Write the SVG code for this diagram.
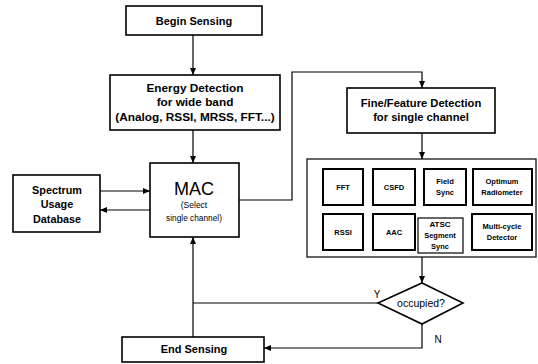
<svg xmlns="http://www.w3.org/2000/svg" width="538" height="364" viewBox="0 0 538 364">
<defs>
<marker id="ah" markerWidth="8" markerHeight="8" refX="7" refY="4" orient="auto" markerUnits="userSpaceOnUse">
<path d="M0,1 L7,4 L0,7 Z" fill="#000"/>
</marker>
<style>
.box{fill:#fff;stroke:#000;stroke-width:1.6}
.inner{fill:#fff;stroke:#000;stroke-width:2}
.cont{fill:#fff;stroke:#000;stroke-width:1.2}
.ln{fill:none;stroke:#000;stroke-width:1.2}
.b{font-family:"Liberation Sans",Arial,sans-serif;font-weight:bold;fill:#000;text-anchor:middle}
.r{font-family:"Liberation Sans",Arial,sans-serif;fill:#000;text-anchor:middle}
</style>
</defs>
<rect width="538" height="364" fill="#fff"/>
<g id="connectors">
<line class="ln" x1="193" y1="35" x2="193" y2="75" marker-end="url(#ah)"/>
<line class="ln" x1="193" y1="130" x2="193" y2="163" marker-end="url(#ah)"/>
<line class="ln" x1="100" y1="191" x2="150" y2="191" marker-end="url(#ah)"/>
<line class="ln" x1="150" y1="210" x2="100" y2="210" marker-end="url(#ah)"/>
<polyline class="ln" points="239,200 292,200 292,72 422,72 422,88" marker-end="url(#ah)"/>
<line class="ln" x1="422" y1="133" x2="422" y2="159" marker-end="url(#ah)"/>
<line class="ln" x1="422" y1="257" x2="422" y2="283" marker-end="url(#ah)"/>
<polyline class="ln" points="378,303 193,303"/>
<line class="ln" x1="193" y1="337" x2="193" y2="237" marker-end="url(#ah)"/>
<polyline class="ln" points="422,324 422,348 264,348" marker-end="url(#ah)"/>
<text class="r" x="377" y="298" font-size="10">Y</text>
<text class="r" x="438" y="343" font-size="10">N</text>
</g>
<g id="begin">
<rect class="box" x="126" y="6" width="136" height="29"/>
<text class="b" x="194" y="25" font-size="11">Begin Sensing</text>
</g>
<g id="energy">
<rect class="box" x="110" y="75" width="170" height="55"/>
<text class="b" x="195" y="92" font-size="11.8">Energy Detection</text>
<text class="b" x="195" y="106" font-size="11.8">for wide band</text>
<text class="b" x="195" y="121" font-size="11.8">(Analog, RSSI, MRSS, FFT...)</text>
</g>
<g id="sud">
<rect class="box" x="13" y="175" width="87" height="57"/>
<text class="b" x="57" y="194" font-size="10.8">Spectrum</text>
<text class="b" x="57" y="208" font-size="10.8">Usage</text>
<text class="b" x="57" y="223" font-size="10.8">Database</text>
</g>
<g id="mac">
<rect class="box" x="150" y="163" width="89" height="74"/>
<text class="r" x="194" y="195" font-size="18">MAC</text>
<text class="r" x="194" y="208" font-size="8.5">(Select</text>
<text class="r" x="194" y="221" font-size="8.3">single channel)</text>
</g>
<g id="fine">
<rect class="box" x="347" y="88" width="148" height="45"/>
<text class="b" x="421" y="107" font-size="11.2">Fine/Feature Detection</text>
<text class="b" x="421" y="121" font-size="11.2">for single channel</text>
</g>
<g id="detectors">
<rect class="cont" x="307" y="159" width="229" height="98"/>
<g id="fft"><rect class="inner" x="323" y="169" width="40" height="36"/><text class="b" x="343" y="190" font-size="7.5">FFT</text></g>
<g id="csfd"><rect class="inner" x="373" y="169" width="42" height="36"/><text class="b" x="394" y="190" font-size="7.5">CSFD</text></g>
<g id="fieldsync"><rect class="inner" x="424" y="169" width="42" height="36"/><text class="b" x="445" y="184" font-size="7.5">Field</text><text class="b" x="445" y="195" font-size="7.5">Sync</text></g>
<g id="optimum"><rect class="inner" x="473" y="169" width="59" height="36"/><text class="b" x="502" y="184" font-size="7.5">Optimum</text><text class="b" x="502" y="195" font-size="7.5">Radiometer</text></g>
<g id="rssi"><rect class="inner" x="323" y="214" width="40" height="36"/><text class="b" x="343" y="235" font-size="7.5">RSSI</text></g>
<g id="aac"><rect class="inner" x="373" y="214" width="42" height="36"/><text class="b" x="394" y="235" font-size="7.5">AAC</text></g>
<g id="atsc"><rect class="cont" x="418" y="218" width="45" height="35"/><text class="b" x="440" y="227" font-size="8">ATSC</text><text class="b" x="440" y="238" font-size="7.5">Segment</text><text class="b" x="440" y="249" font-size="7.5">Sync</text></g>
<g id="multicycle"><rect class="inner" x="472" y="214" width="60" height="36"/><text class="b" x="502" y="229" font-size="7.5">Multi-cycle</text><text class="b" x="502" y="240" font-size="7.5">Detector</text></g>
</g>
<g id="occupied">
<polygon class="box" points="422,283 463,303 422,324 378,303"/>
<text class="r" x="421" y="307" font-size="10.5">occupied?</text>
</g>
<g id="end">
<rect class="box" x="122" y="337" width="142" height="25"/>
<text class="b" x="194" y="353" font-size="11">End Sensing</text>
</g>
</svg>
